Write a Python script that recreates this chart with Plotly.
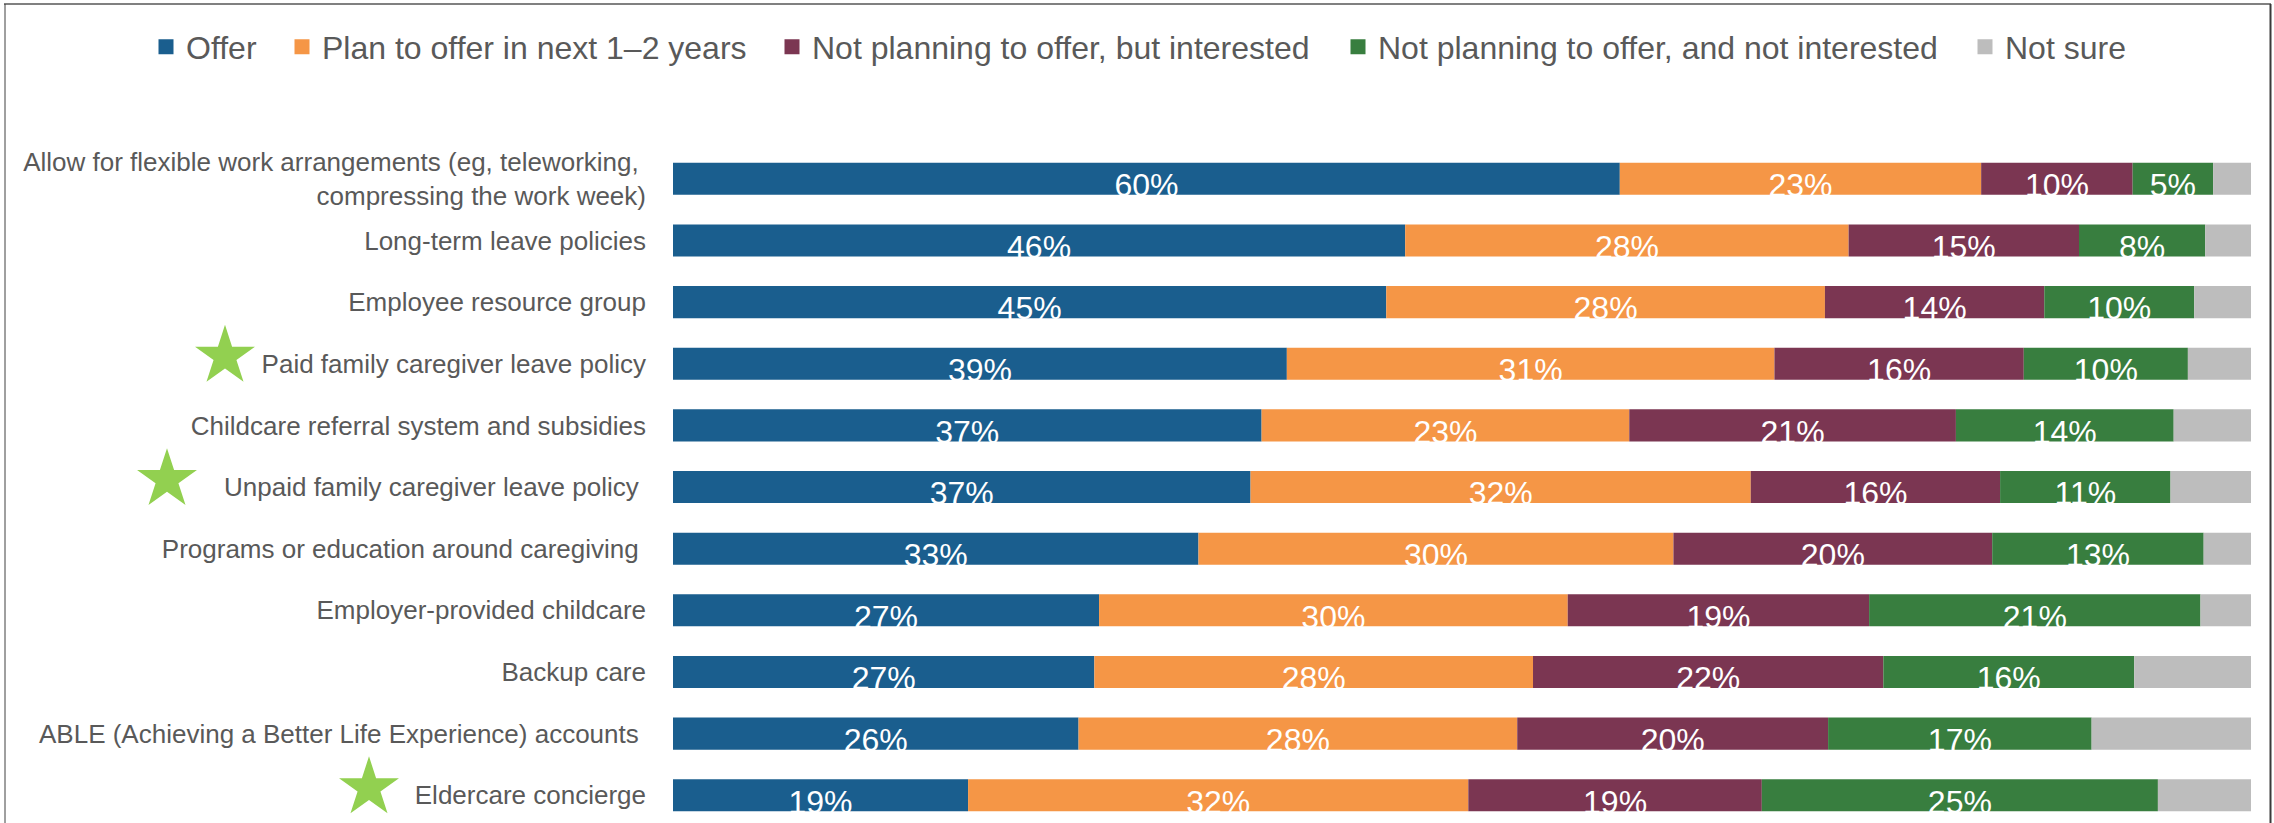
import plotly.graph_objects as go
import numpy as np

# ---------------- data ----------------
categories = [
    "Allow for flexible work arrangements (eg, teleworking, <br>compressing the work week)",
    "Long-term leave policies",
    "Employee resource group",
    "Paid family caregiver leave policy",
    "Childcare referral system and subsidies",
    "Unpaid family caregiver leave policy\u00a0",
    "Programs or education around caregiving\u00a0",
    "Employer-provided childcare",
    "Backup care",
    "ABLE (Achieving a Better Life Experience) accounts\u00a0",
    "Eldercare concierge",
]
series_names = [
    "Offer",
    "Plan to offer in next 1\u20132 years",
    "Not planning to offer, but interested",
    "Not planning to offer, and not interested",
    "Not sure",
]
offer = [60.0, 46.4, 45.2, 38.9, 37.3, 36.6, 33.3, 27.0, 26.7, 25.7, 18.7]
plan = [22.9, 28.1, 27.8, 30.9, 23.3, 31.7, 30.1, 29.7, 27.8, 27.8, 31.7]
interested = [9.6, 14.6, 13.9, 15.8, 20.7, 15.8, 20.2, 19.1, 22.2, 19.7, 18.6]
not_interested = [5.1, 8.0, 9.5, 10.4, 13.8, 10.8, 13.4, 21.0, 15.9, 16.7, 25.1]
not_sure = [2.4, 2.9, 3.6, 4.0, 4.9, 5.1, 3.0, 3.2, 7.4, 10.1, 5.9]
starred = [
    "Paid family caregiver leave policy",
    "Unpaid family caregiver leave policy\u00a0",
    "Eldercare concierge",
]

# ---------------- style ----------------
W, H = 2274, 823
FONT = "Arial, Liberation Sans, sans-serif"
TXT = "#595959"
colors = ["#1A5E8E", "#F59646", "#7B3652", "#387E3F", "#BDBDBD"]
labelled = [True, True, True, True, False]
plot_left, plot_right, plot_top = 673, 2251, 148
star_x_px = [225, 167, 369]
legend_sq_left = [160, 296, 786, 1352, 1979]

series = [offer, plan, interested, not_interested, not_sure]
idx = np.arange(len(categories))

fig = go.Figure()
left = np.zeros(len(categories))
for k, (name, vals, col) in enumerate(zip(series_names, series, colors)):
    vals = np.array(vals, dtype=float)
    fig.add_trace(go.Bar(
        y=idx, x=vals, base=left, orientation="h", width=0.52,
        marker=dict(color=col, line=dict(width=0)),
        showlegend=False, hoverinfo="skip",
    ))
    if labelled[k]:
        fig.add_trace(go.Scatter(
            y=idx + 0.15, x=left + vals / 2, mode="text",
            text=[f"{int(round(v))}%" for v in vals], textposition="middle center",
            textfont=dict(size=32, color="white", family=FONT),
            showlegend=False, hoverinfo="skip", cliponaxis=False,
        ))
    left = left + vals
    lg = "legend" if k == 0 else f"legend{k+1}"
    fig.add_trace(go.Scatter(
        x=[None], y=[None], mode="markers", name=name,
        marker=dict(symbol="square", size=15, color=col),
        legend=lg, showlegend=True,
    ))

# stars next to selected categories
star_idx = [categories.index(s) for s in starred]
fig.add_trace(go.Scatter(
    x=star_x_px, y=[i - 0.12 for i in star_idx], xaxis="x2", yaxis="y",
    mode="markers", marker=dict(symbol="star", size=45, color="#92D050",
                                line=dict(width=0)),
    showlegend=False, hoverinfo="skip", cliponaxis=False,
))

layout_legends = {}
for k, sq in enumerate(legend_sq_left):
    key = "legend" if k == 0 else f"legend{k+1}"
    layout_legends[key] = dict(
        x=(sq - 14) / W, xanchor="left", y=1 - 47 / H, yanchor="middle",
        orientation="h", bgcolor="rgba(0,0,0,0)", borderwidth=0,
        font=dict(size=32, color=TXT, family=FONT),
    )

fig.update_layout(
    width=W, height=H, barmode="overlay",
    margin=dict(l=0, r=0, t=0, b=0),
    paper_bgcolor="white", plot_bgcolor="white",
    font=dict(family=FONT, color=TXT),
    xaxis=dict(domain=[plot_left / W, plot_right / W], range=[0, 100],
               visible=False, fixedrange=True),
    xaxis2=dict(domain=[0, (plot_left - 10) / W], range=[0, plot_left - 10],
                anchor="y", visible=False, fixedrange=True),
    yaxis=dict(domain=[0, 1 - plot_top / H], range=[10.45, -0.5],
               tickvals=list(idx), ticktext=categories, ticks="",
               showgrid=False, zeroline=False, showline=False,
               tickfont=dict(size=26, color=TXT, family=FONT),
               ticklabelstandoff=26, fixedrange=True),
    shapes=[
        dict(type="line", xref="paper", yref="paper", x0=4 / W, x1=2271 / W,
             y0=1 - 4 / H, y1=1 - 4 / H, line=dict(color="#808080", width=2)),
        dict(type="line", xref="paper", yref="paper", x0=5 / W, x1=5 / W,
             y0=0, y1=1 - 4 / H, line=dict(color="#404040", width=1)),
        dict(type="line", xref="paper", yref="paper", x0=2270.5 / W, x1=2270.5 / W,
             y0=0, y1=1 - 4 / H, line=dict(color="#3A3A3A", width=2)),
    ],
    **layout_legends,
)

fig.write_html("out.html")
